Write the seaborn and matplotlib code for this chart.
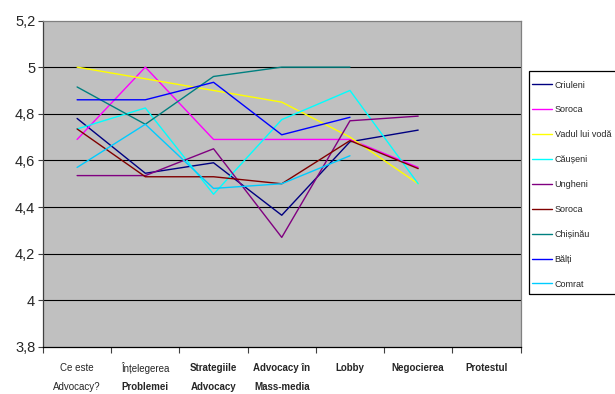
import numpy as np
import pandas as pd
import matplotlib
matplotlib.use("Agg")
import matplotlib.pyplot as plt
from matplotlib.ticker import FuncFormatter
from matplotlib.patches import Rectangle
import seaborn as sns

# Survey topics (x axis)
line1 = ["Ce este", "Înțelegerea", "Strategiile", "Advocacy în", "Lobby", "Negocierea", "Protestul"]
line2 = ["Advocacy?", "Problemei", "Advocacy", "Mass-media", "", "", ""]
bold1 = [False, False, True, True, True, True, True]

# Average scores per district
criuleni = [4.78, 4.545, 4.59, 4.365, 4.68, 4.73, np.nan]
soroca_a = [4.69, 5.00, 4.69, 4.69, 4.69, 4.57, np.nan]
vadul = [5.00, 4.95, 4.90, 4.85, 4.70, 4.50, np.nan]
causeni = [4.735, 4.825, 4.455, 4.775, 4.90, 4.50, np.nan]
ungheni = [4.535, 4.535, 4.65, 4.27, 4.77, 4.79, np.nan]
soroca_b = [4.735, 4.53, 4.53, 4.50, 4.685, 4.565, np.nan]
chisinau = [4.915, 4.755, 4.96, 5.00, 5.00, np.nan, np.nan]
balti = [4.86, 4.86, 4.935, 4.71, 4.785, np.nan, np.nan]
comrat = [4.57, 4.755, 4.48, 4.50, 4.62, np.nan, np.nan]

names = ["Criuleni", "Soroca", "Vadul lui vodă", "Căușeni", "Ungheni",
         "Soroca", "Chișinău", "Bălți", "Comrat"]
series = [criuleni, soroca_a, vadul, causeni, ungheni, soroca_b, chisinau, balti, comrat]
colors = ["#000080", "#FF00FF", "#FFFF00", "#00FFFF", "#800080",
          "#800000", "#008080", "#0000FF", "#00CCFF"]

keys = [f"s{i}" for i in range(len(series))]
rows = []
for k, vals in zip(keys, series):
    for xi, v in enumerate(vals):
        rows.append({"key": k, "x": xi, "score": v})
df = pd.DataFrame(rows).dropna()

sns.set_style("white")
plt.rcParams["font.family"] = ["Liberation Sans", "DejaVu Sans"]

fig = plt.figure(figsize=(6.15, 3.94), dpi=100)
ax = fig.add_axes([43 / 615, 1 - 347 / 394, (520.5 - 43) / 615, 326.5 / 394])
ax.set_facecolor("#C0C0C0")

for y in np.arange(4.0, 5.01, 0.2):
    ax.axhline(y, color="black", lw=0.8, zorder=1)

sns.lineplot(data=df, x="x", y="score", hue="key", hue_order=keys,
             palette=dict(zip(keys, colors)), estimator=None, sort=False,
             lw=1.0, legend=False, ax=ax, zorder=3)

ax.set_xlim(-0.5, 6.5)
ax.set_ylim(3.8, 5.2)
ax.set_yticks(np.arange(3.8, 5.21, 0.2))
ax.yaxis.set_major_formatter(FuncFormatter(lambda v, p: f"{round(v, 1):g}".replace(".", ",")))
ax.set_xticks(np.arange(-0.5, 7, 1))
ax.set_xticklabels([])
ax.set_xlabel("")
ax.set_ylabel("")
ax.tick_params(axis="y", length=3.6, width=0.8, color="#404040", direction="out",
               labelsize=10.5, pad=2, left=True)
ax.tick_params(axis="x", length=4.3, width=0.8, color="#404040", direction="out", bottom=True)

ax.spines["left"].set_color("#404040")
ax.spines["bottom"].set_color("black")
ax.spines["top"].set_color("#808080")
ax.spines["right"].set_color("#808080")
for s in ax.spines.values():
    s.set_linewidth(0.9)

tr = ax.get_xaxis_transform()
narrow = ["Liberation Sans Narrow", "Liberation Sans", "DejaVu Sans"]
for i, (a, b) in enumerate(zip(line1, line2)):
    ax.text(i, -0.064, a, transform=tr, ha="center", va="center", fontsize=7,
            family=narrow, fontweight="bold" if bold1[i] else "normal")
    if b:
        ax.text(i, -0.1225, b, transform=tr, ha="center", va="center", fontsize=7,
                family=narrow, fontweight="bold" if i > 0 else "normal")

# Legend, with its frame drawn as a separate box
handles = ax.get_lines()[-len(series):]
leg = fig.legend(handles, names, loc="upper left",
                 bbox_to_anchor=(531.7 / 615, 1 - 80.5 / 394),
                 frameon=False, borderpad=0, borderaxespad=0,
                 prop={"family": narrow, "size": 6.5},
                 handlelength=2.3, handletextpad=0.25, labelspacing=1.76)
fig.add_artist(Rectangle((529.3 / 615, 1 - 294.3 / 394), 0.2, (294.3 - 70.7) / 394,
                         transform=fig.transFigure, fill=False, edgecolor="black", lw=0.9))

fig.savefig("out.png", dpi=100)
